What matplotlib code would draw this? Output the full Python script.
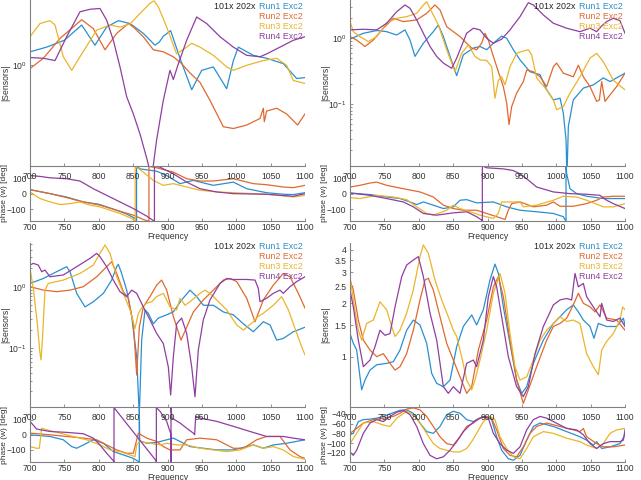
import matplotlib
matplotlib.use('Agg')
import matplotlib.pyplot as plt
from matplotlib.ticker import FixedLocator, FixedFormatter, NullLocator, LogLocator, NullFormatter

plt.rcParams['font.family'] = ['Liberation Sans', 'DejaVu Sans']
plt.rcParams['mathtext.fontset'] = 'custom'
plt.rcParams['mathtext.rm'] = 'Liberation Sans'
plt.rcParams['mathtext.it'] = 'Liberation Sans:italic'
plt.rcParams['mathtext.bf'] = 'Liberation Sans:bold'
plt.rcParams['mathtext.default'] = 'regular'

# ---------------- data: top-left panel ----------------
tl_mag_run1_f = [700, 724.2, 750, 775.2, 794.5, 811.5, 828.5, 845.5, 864.8, 881.8, 888.1, 894, 904.6, 918.2, 935.2, 949.7, 966.7, 986.1, 995.8, 1003, 1024.8, 1044.2, 1068.5, 1087.9, 1100]
tl_mag_run1 = [1.18, 1.25, 1.36, 1.64, 1.28, 1.60, 1.73, 1.67, 1.48, 1.28, 1.33, 1.43, 1.53, 1.09, 0.74, 0.94, 0.98, 0.75, 1.06, 1.25, 1.13, 1.09, 1.02, 0.85, 0.86]
tl_mag_run2_f = [700, 719.4, 743.6, 775.2, 792.1, 809.1, 826.1, 843, 850.3, 864.8, 879.4, 893.9, 908.5, 920.6, 932.7, 947.3, 961.8, 981.2, 995.8, 1015.2, 1034.5, 1039.4, 1040.8, 1044.2, 1058.8, 1073.3, 1089.3, 1100]
tl_mag_run2 = [0.96, 1.09, 1.39, 1.75, 1.57, 1.21, 1.48, 1.67, 1.60, 1.42, 1.21, 1.18, 1.11, 1.02, 0.91, 0.81, 0.65, 0.47, 0.46, 0.48, 0.52, 0.59, 0.50, 0.57, 0.59, 0.55, 0.48, 0.55]
tl_mag_run3_f = [700, 714.5, 729.1, 736.4, 748.5, 760.6, 775.2, 797, 816.4, 831, 845.5, 860, 874.5, 880.4, 886.7, 898.8, 913.3, 927.9, 935.2, 947.3, 966.7, 986.1, 995.8, 1015.2, 1039.4, 1058.8, 1073.3, 1083, 1100]
tl_mag_run3 = [1.42, 1.67, 1.73, 1.64, 1.11, 0.94, 1.15, 1.54, 1.64, 1.60, 1.66, 1.89, 2.14, 2.21, 2.05, 1.60, 1.15, 1.25, 1.31, 1.25, 1.13, 0.98, 0.94, 1.0, 1.06, 1.09, 1.0, 0.83, 0.80]
tl_mag_run4_f = [700, 719.4, 736.4, 753.3, 772.7, 787.3, 801.8, 811.5, 821.2, 830.9, 840.6, 850.3, 860, 869.7, 876.9, 884.2, 893.9, 903.6, 908.5, 915.8, 927.9, 942.4, 957, 976.4, 995.8, 1015.2, 1034.5, 1044.2, 1063.6, 1083, 1100]
tl_mag_run4 = [1.10, 1.09, 1.06, 1.42, 1.93, 1.99, 2.01, 1.74, 1.36, 0.98, 0.68, 0.55, 0.43, 0.32, 0.25, 0.40, 0.65, 0.94, 0.84, 1.02, 1.36, 1.81, 1.67, 1.42, 1.25, 1.13, 1.11, 1.15, 1.25, 1.36, 1.42]

tl_ph_run1_f = [700, 729.1, 753.3, 777.6, 800, 811.5, 826.1, 840.6, 853, 855, 855, 860, 884.2, 898.8, 918.2, 937.6, 966.7, 995.8, 1015.2, 1044.2, 1068.5, 1083, 1100]
tl_ph_run1 = [26, 0, -22, -54, -69, -86, -108, -133, -161, -180, 180, 161, 146, 118, 65, 86, 54, 75, 32, 6, -4, -6, 6]
tl_ph_run2_f = [700, 729.1, 753.3, 777.6, 801.8, 826.1, 850.3, 864.8, 873, 873, 874.5, 884.2, 908.5, 927.9, 947.3, 966.7, 995.8, 1024.8, 1044.2, 1068.5, 1083, 1100]
tl_ph_run2 = [26, 0, -26, -54, -75, -108, -140, -168, -180, 180, 176, 168, 140, 97, 82, 82, 97, 65, 58, 43, 39, 54]
tl_ph_run3_f = [700, 714.5, 729.1, 743.6, 758.2, 772.7, 787.3, 801.8, 816.4, 830.9, 847.9, 853, 853, 853.8, 864.8, 879.4, 893.9, 908.5, 927.9, 947.3, 971.5, 995.8, 1044.2, 1073.3, 1083, 1100]
tl_ph_run3 = [11, -32, -54, -71, -65, -54, -75, -86, -108, -129, -161, -180, 180, 176, 140, 86, 54, 65, 43, 22, 11, 6, -4, -17, -22, -11]
tl_ph_run4_f = [700, 714.5, 729.1, 753.3, 772.7, 792.1, 811.5, 830.9, 850.3, 869.7, 881, 881, 889.1, 908.5, 927.9, 947.3, 971.5, 995.8, 1044.2, 1083, 1100]
tl_ph_run4 = [118, 112, 103, 97, 82, 32, -11, -54, -97, -146, -180, 180, 172, 129, 75, 32, 11, 0, -4, -17, 0]

# ---------------- data: top-right panel ----------------
tr_mag_run1_f = [700, 719.4, 738.8, 753.3, 767.9, 780, 787.3, 794.5, 806.7, 821.2, 828.5, 835.8, 845.5, 855.2, 864.8, 879.4, 889.1, 898.8, 908.5, 920.6, 927.9, 937.6, 947.3, 961.8, 976.4, 986.1, 995.8, 1005.5, 1010.3, 1014.2, 1015.6, 1017.6, 1024.8, 1039.4, 1053.9, 1068.5, 1078.2, 1100]
tr_mag_run1 = [0.97, 1.19, 1.31, 1.26, 1.12, 1.34, 0.94, 0.53, 0.84, 1.26, 1.59, 1.06, 0.53, 0.27, 0.56, 0.71, 0.75, 0.67, 0.84, 1.08, 1.0, 0.67, 0.47, 0.31, 0.28, 0.165, 0.116, 0.123, 0.073, 0.029, 0.008, 0.046, 0.116, 0.175, 0.196, 0.25, 0.22, 0.295]
tr_mag_run2_f = [700, 709.7, 721.8, 733.9, 748.5, 763, 777.6, 797, 811.5, 823.6, 830.9, 840.6, 850.3, 860, 869.7, 877, 884.2, 891.5, 896.4, 901.2, 908.5, 915.8, 923, 927.9, 931.3, 935.2, 942.4, 952.1, 957, 966.7, 976.4, 986.1, 995.8, 1000.6, 1010.3, 1024.8, 1032.1, 1039.4, 1049.1, 1058.8, 1062.7, 1066.1, 1070.9, 1078.2, 1087.9, 1100]
tr_mag_run2 = [1.06, 0.94, 0.75, 0.94, 1.42, 2.01, 1.79, 1.90, 2.39, 3.20, 2.69, 1.50, 1.26, 1.06, 0.84, 0.71, 0.67, 0.84, 1.19, 0.94, 0.53, 0.31, 0.185, 0.104, 0.049, 0.092, 0.147, 0.22, 0.33, 0.31, 0.26, 0.185, 0.37, 0.42, 0.295, 0.26, 0.39, 0.26, 0.185, 0.11, 0.116, 0.22, 0.11, 0.138, 0.185, 0.295]
tr_mag_run3_f = [700, 704.8, 714.5, 726.7, 738.8, 753.3, 767.9, 782.4, 797, 806.7, 811.5, 818.8, 828.5, 840.6, 852.7, 862.3, 872.1, 881.8, 889.1, 898.8, 906.1, 910.9, 915.8, 920.6, 925.5, 932.7, 942.4, 949.7, 959.4, 964.2, 971.5, 986.1, 995.8, 1000.6, 1010.3, 1020, 1034.5, 1049.1, 1058.8, 1068.5, 1083, 1100]
tr_mag_run3 = [1.79, 1.26, 1.06, 0.89, 1.06, 1.69, 2.01, 2.13, 2.39, 3.20, 3.59, 2.53, 1.59, 0.67, 0.31, 0.59, 0.79, 0.53, 0.47, 0.46, 0.37, 0.123, 0.23, 0.26, 0.196, 0.37, 0.59, 0.63, 0.67, 0.56, 0.25, 0.165, 0.116, 0.082, 0.092, 0.147, 0.26, 0.50, 0.59, 0.44, 0.23, 0.165]
tr_mag_run4_f = [700, 719.4, 738.8, 753.3, 767.9, 780, 787.3, 797, 806.7, 816.4, 826.1, 835.8, 847.9, 855.2, 869.7, 879.4, 889.1, 898.8, 908.5, 920.6, 932.7, 947.3, 959.4, 966.7, 981.2, 995.8, 1015.2, 1034.5, 1049.1, 1058.8, 1066.1, 1073.3, 1083, 1092.7, 1100]
tr_mag_run4 = [1.34, 1.37, 1.34, 1.69, 2.53, 3.20, 2.85, 1.90, 1.19, 0.75, 0.53, 0.42, 0.35, 0.50, 1.19, 1.42, 1.34, 1.0, 0.84, 0.97, 1.34, 2.13, 3.47, 3.20, 2.26, 1.69, 1.42, 1.26, 1.42, 1.26, 1.54, 1.79, 2.01, 1.85, 1.19]

tr_ph_run1_f = [700, 729.1, 753.3, 772.7, 787.3, 797, 806.7, 821.2, 835.8, 850.3, 860, 869.7, 884.2, 908.5, 927.9, 947.3, 971.5, 995.8, 1010.3, 1014.2, 1014.2, 1015.2, 1020, 1029.7, 1044.2, 1068.5, 1100]
tr_ph_run1 = [4, -6, -22, -32, -54, -71, -54, -75, -97, -86, -43, -39, -60, -54, -86, -108, -118, -129, -150, -180, 180, 129, 32, 0, -17, -32, -32]
tr_ph_run2_f = [700, 714.5, 729.1, 738.8, 753.3, 777.6, 801.8, 821.2, 835.8, 850.3, 864.8, 884.2, 898.8, 913.3, 925.5, 930.3, 935.2, 947.3, 966.7, 986.1, 995.8, 1005.5, 1024.8, 1044.2, 1058.8, 1068.5, 1083, 1100]
tr_ph_run2 = [43, 54, 69, 75, 54, 32, 11, -22, -75, -97, -108, -108, -129, -150, -168, -108, -65, -54, -86, -75, -54, -82, -82, -65, -43, -22, -17, -17]
tr_ph_run3_f = [700, 714.5, 738.8, 763, 782.4, 797, 811.5, 821.2, 840.6, 850.3, 860, 874.5, 889.1, 908.5, 915.8, 920.6, 932.7, 947.3, 952.1, 971.5, 995.8, 1010.3, 1029.7, 1044.2, 1068.5, 1083, 1100]
tr_ph_run3 = [-26, -32, -11, -22, -39, -86, -129, -140, -108, -75, -97, -118, -140, -161, -129, -54, -54, -54, -86, -75, -43, -17, -22, -43, -86, -86, -65]
tr_ph_run4_f = [700, 729.1, 753.3, 777.6, 792.1, 806.7, 826.1, 850.3, 869.7, 884.2, 891.5, 892.5, 892.5, 898.8, 923, 937.6, 947.3, 957, 971.5, 995.8, 1020, 1044.2, 1063.6, 1073.3, 1083, 1100]
tr_ph_run4 = [4, -11, -32, -54, -86, -129, -140, -125, -118, -150, -172, -180, 180, 168, 161, 150, 129, 97, 43, 11, 0, -4, -11, -43, -65, -97]

# ---------------- data: bottom-left panel ----------------
bl_mag_run1_f = [700, 719.4, 738.8, 753.3, 758.2, 767.9, 780, 792.1, 806.7, 818.8, 826.1, 828.5, 833.3, 840.6, 847.9, 855.2, 859, 862.4, 867.3, 872.1, 879.4, 886.7, 898.8, 908.5, 920.6, 932.7, 942.4, 952.1, 966.7, 981.2, 995.8, 1010.3, 1024.8, 1039.4, 1049.1, 1058.8, 1068.5, 1083, 1100]
bl_mag_run1 = [1.13, 1.36, 1.75, 2.11, 1.75, 0.78, 0.47, 0.57, 0.78, 1.28, 2.11, 2.30, 1.64, 0.88, 0.33, 0.073, 0.008, 0.136, 0.42, 0.37, 0.25, 0.31, 0.35, 0.39, 0.61, 0.88, 0.69, 0.50, 0.50, 0.39, 0.35, 0.25, 0.186, 0.27, 0.24, 0.136, 0.145, 0.186, 0.22]
bl_mag_run2_f = [700, 719.4, 738.8, 758.2, 777.6, 797, 811.5, 818.8, 826.1, 835.8, 843, 850.3, 855.2, 859, 864.8, 874.5, 884.2, 891.5, 898.8, 908.5, 919.6, 927.9, 937.6, 952.1, 966.7, 981.2, 990.9, 1000.6, 1015.2, 1027.3, 1039.4, 1053.9, 1068.5, 1078.2, 1090.3, 1100]
bl_mag_run2 = [1.0, 0.88, 0.83, 0.88, 1.0, 1.45, 2.11, 2.54, 1.64, 0.83, 0.65, 0.25, 0.037, 0.22, 0.47, 0.69, 1.06, 1.28, 0.88, 0.33, 0.136, 0.22, 0.39, 0.61, 0.88, 1.28, 1.36, 1.21, 0.65, 0.27, 0.61, 1.06, 1.64, 1.45, 0.78, 0.45]
bl_mag_run3_f = [700, 704.8, 710.7, 714.5, 716, 718, 721.8, 726.7, 748.5, 772.7, 792.1, 801.8, 809.1, 816.4, 826.1, 835.8, 845.5, 852.7, 857.6, 862.4, 869.7, 877, 884.2, 893.9, 903.6, 913.3, 918.2, 925.5, 932.7, 947.3, 954.5, 961.8, 971.5, 986.1, 1000.6, 1010.3, 1024.8, 1032.1, 1039.4, 1053.9, 1066.1, 1075.8, 1085.5, 1095.2, 1100]
bl_mag_run3 = [1.98, 0.94, 0.25, 0.083, 0.065, 0.136, 0.88, 1.13, 1.28, 1.64, 2.24, 3.47, 4.74, 3.47, 1.45, 0.78, 0.42, 0.21, 0.37, 0.45, 0.54, 0.57, 0.69, 0.78, 0.47, 0.42, 0.65, 0.50, 0.57, 0.78, 0.88, 0.78, 0.61, 0.42, 0.24, 0.198, 0.27, 0.33, 0.37, 0.50, 0.69, 0.42, 0.21, 0.106, 0.078]
bl_mag_run4_f = [700, 704.8, 712.1, 717, 721.8, 729.1, 748.5, 767.9, 787.3, 797, 801.8, 811.5, 821.2, 830.9, 840.6, 847.9, 855.2, 864.8, 874.5, 884.2, 893.9, 901.2, 904.6, 908.5, 913.3, 920.6, 927.9, 935.2, 940, 944.8, 952.1, 961.8, 976.4, 986.1, 995.8, 1015.2, 1027.3, 1032.1, 1034.5, 1044.2, 1053.9, 1063.6, 1068.5, 1078.2, 1087.9, 1100]
bl_mag_run4 = [2.24, 2.39, 2.24, 1.75, 1.86, 1.45, 1.55, 2.11, 2.88, 3.47, 3.07, 2.11, 1.28, 0.83, 0.69, 0.88, 0.78, 0.47, 0.29, 0.175, 0.12, 0.050, 0.0175, 0.073, 0.25, 0.31, 0.175, 0.050, 0.0164, 0.094, 0.29, 0.61, 1.13, 1.36, 1.31, 1.31, 1.28, 0.94, 0.57, 0.65, 0.78, 0.88, 0.78, 1.0, 1.21, 1.45]

bl_ph_run1_f = [700, 729.1, 748.5, 760.6, 767.9, 777.6, 792.1, 806.7, 821.2, 835.8, 850.3, 859, 859, 859.5, 869.7, 884.2, 898.8, 908.5, 918.2, 932.7, 952.1, 971.5, 995.8, 1015.2, 1024.8, 1039.4, 1053.9, 1073.3, 1100]
bl_ph_run1 = [0, -11, -33, -78, -89, -67, -33, -56, -111, -133, -156, -180, 180, -40, -56, -51, -33, -22, -44, -78, -89, -100, -100, -78, -67, -89, -67, -56, -33]
bl_ph_run2_f = [700, 729.1, 753.3, 777.6, 797, 811.5, 826.1, 840.6, 850.3, 855.2, 857.6, 869.7, 884.2, 893.9, 903.6, 918.2, 927.9, 947.3, 971.5, 995.8, 1010.3, 1029.7, 1044.2, 1063.6, 1078.2, 1092.7, 1100]
bl_ph_run2 = [11, 0, -11, -22, -33, -67, -100, -122, -122, -33, 11, -22, -44, -78, -100, -100, -33, -22, -33, -89, -89, -33, -11, -11, -100, -144, -156]
bl_ph_run3_f = [700, 709.7, 713.6, 717, 724.2, 743.6, 763, 782.4, 801.8, 816.4, 830.9, 845.5, 852.7, 855.2, 860, 874.5, 889.1, 898.8, 913.3, 927.9, 947.3, 966.7, 986.1, 1005.5, 1024.8, 1039.4, 1053.9, 1068.5, 1083, 1100]
bl_ph_run3 = [-78, -89, -89, 44, 33, 11, -11, -33, -67, -100, -111, -133, -144, -67, -44, -56, -67, -56, -67, -67, -89, -100, -111, -100, -67, -89, -78, -100, -144, -162]
bl_ph_run4_f = [700, 709.7, 729.1, 753.3, 777.6, 792.1, 801.8, 811.5, 821.2, 822.2, 822.2, 883.3, 883.8, 883.8, 889.1, 898.8, 903.6, 904.6, 905.1, 905.1, 906.5, 918.2, 927.9, 937.6, 939.5, 941, 947.3, 971.5, 995.8, 1020, 1044.2, 1068.5, 1083, 1100]
bl_ph_run4 = [89, 38, 22, 16, 7, -22, -67, -122, -171, -180, 180, -171, -180, 180, 156, 89, 22, 10, -180, 180, 111, 78, 44, 11, 0, 122, 111, 89, 56, 22, -11, -11, -22, -33]

# ---------------- data: bottom-right panel ----------------
br_mag_run1_f = [700, 704.8, 709.7, 714.5, 717, 721.8, 729.1, 738.8, 753.3, 763, 772.7, 782.4, 792.1, 801.8, 811.5, 818.8, 826.1, 835.8, 845.5, 855.2, 864.8, 877, 884.2, 893.9, 903.6, 910.9, 915.8, 923, 932.7, 942.4, 949.7, 957, 966.7, 981.2, 995.8, 1005.5, 1015.2, 1024.8, 1032.1, 1039.4, 1049.1, 1054.9, 1061.2, 1073.3, 1087.9, 1097.6, 1100]
br_mag_run1 = [1.35, 1.19, 1.09, 0.77, 0.65, 0.738, 0.84, 0.90, 0.917, 0.937, 1.09, 1.41, 1.61, 1.51, 1.19, 0.805, 0.707, 0.677, 0.738, 1.14, 1.48, 1.72, 1.51, 1.84, 2.71, 3.33, 2.95, 1.91, 1.19, 0.738, 0.621, 0.677, 0.917, 1.24, 1.54, 1.68, 1.84, 1.96, 1.79, 1.61, 1.48, 1.27, 1.54, 1.48, 1.48, 1.65, 1.51]
br_mag_run2_f = [700, 704.8, 712.1, 719.4, 729.1, 738.8, 748.5, 758.2, 765.5, 772.7, 782.4, 792.1, 801.8, 809.1, 813.9, 821.2, 830.9, 840.6, 850.3, 860, 869.7, 877, 886.7, 898.8, 908.5, 915.8, 923, 932.7, 942.4, 952.1, 959.4, 971.5, 986.1, 995.8, 1005.5, 1015.2, 1024.8, 1032.1, 1039.4, 1049.1, 1056.4, 1063.6, 1073.3, 1087.9, 1100]
br_mag_run2 = [2.71, 2.38, 1.61, 1.24, 1.09, 1.0, 1.04, 0.917, 0.84, 0.878, 1.04, 1.41, 2.09, 2.71, 2.77, 2.38, 1.68, 1.19, 0.957, 0.77, 0.621, 0.677, 1.09, 1.61, 2.48, 2.83, 2.18, 1.24, 0.738, 0.545, 0.65, 0.878, 1.24, 1.48, 1.54, 1.65, 1.96, 2.28, 2.0, 1.91, 1.79, 1.96, 1.65, 1.61, 1.41]
br_mag_run3_f = [700, 704.8, 712.1, 717, 724.2, 733.9, 743.6, 753.3, 760.6, 765.5, 772.7, 782.4, 792.1, 801.8, 806.7, 813.9, 823.6, 833.3, 843, 850.3, 855.2, 862.4, 869.7, 877, 881.8, 889.1, 898.8, 908.5, 918.2, 925.5, 932.7, 940, 947.3, 957, 966.7, 976.4, 986.1, 995.8, 1005.5, 1015.2, 1024.8, 1034.5, 1044.2, 1053.9, 1061.2, 1066.1, 1073.3, 1083, 1092.7, 1096.6, 1100]
br_mag_run3 = [2.83, 2.09, 1.41, 1.24, 1.54, 1.61, 2.04, 1.84, 1.48, 1.30, 1.41, 1.76, 2.38, 3.67, 4.27, 3.83, 2.71, 2.09, 1.68, 1.41, 1.30, 1.0, 0.738, 0.65, 0.738, 0.957, 1.41, 2.28, 2.95, 2.28, 1.35, 0.878, 0.738, 0.77, 0.957, 1.24, 1.41, 1.54, 1.68, 1.58, 1.61, 1.54, 1.04, 0.878, 0.79, 1.09, 1.22, 1.35, 1.61, 1.91, 1.84]
br_mag_run4_f = [700, 704.8, 712.1, 719.4, 729.1, 736.4, 743.6, 750.9, 758.2, 765.5, 775.2, 782.4, 792.1, 799.4, 806.7, 816.4, 826.1, 835.8, 843, 850.3, 860, 869.7, 879.4, 884.2, 893.9, 901.2, 908.5, 913.3, 920.6, 930.3, 942.4, 952.1, 959.4, 969.1, 981.2, 995.8, 1005.5, 1015.2, 1022.4, 1027.3, 1032.1, 1039.4, 1044.2, 1053.9, 1063.6, 1066.1, 1073.3, 1083, 1092.7, 1100]
br_mag_run4 = [2.38, 1.91, 1.24, 0.878, 0.957, 1.14, 1.41, 1.32, 1.35, 1.91, 2.83, 3.29, 3.51, 3.67, 2.83, 1.76, 1.24, 0.677, 0.621, 0.677, 0.621, 0.917, 0.957, 0.878, 1.24, 2.18, 2.83, 2.48, 1.68, 1.0, 0.677, 0.595, 0.677, 1.04, 1.48, 1.96, 2.09, 2.13, 2.09, 2.95, 2.48, 2.59, 2.18, 1.91, 1.68, 2.0, 1.61, 1.58, 1.65, 1.48]

br_ph_run1_f = [700, 704.8, 712.1, 719.4, 729.1, 738.8, 748.5, 760.6, 772.7, 782.4, 792.1, 801.8, 811.5, 821.2, 830.9, 840.6, 850.3, 860, 869.7, 879.4, 889.1, 898.8, 906.1, 913.3, 920.6, 930.3, 937.6, 947.3, 957, 966.7, 976.4, 995.8, 1015.2, 1034.5, 1044.2, 1053.9, 1058.8, 1066.1, 1078.2, 1092.7, 1100]
br_ph_run1 = [-83, -80, -56, -52, -51, -49, -45.5, -39, -33, -32, -39, -59, -76.5, -80, -66, -42, -35, -39, -52, -56, -49, -45.5, -52, -87, -114.5, -132, -135, -125, -94, -66, -59, -66, -76.5, -87, -94, -104, -97, -111, -107.6, -101, -83]
br_ph_run2_f = [700, 709.7, 719.4, 733.9, 748.5, 763, 772.7, 782.4, 792.1, 801.8, 811.5, 821.2, 830.9, 840.6, 850.3, 860, 869.7, 879.4, 889.1, 898.8, 906.1, 913.3, 923, 932.7, 942.4, 952.1, 961.8, 971.5, 986.1, 1005.5, 1024.8, 1034.5, 1039.4, 1044.2, 1058.8, 1068.5, 1083, 1100]
br_ph_run2 = [-80, -70, -59, -52, -49, -45.5, -39, -30.5, -28, -32, -45.5, -66, -87, -101, -104, -87, -66, -59, -49, -45.5, -49, -73, -111, -125, -128, -107.6, -80, -66, -59, -66, -73, -76.5, -70, -87, -101, -107.6, -107.6, -104]
br_ph_run3_f = [700, 709.7, 719.4, 733.9, 748.5, 758.2, 767.9, 775.2, 782.4, 792.1, 801.8, 811.5, 821.2, 830.9, 840.6, 850.3, 860, 869.7, 877, 884.2, 893.9, 903.6, 910.9, 918.2, 927.9, 937.6, 947.3, 957, 966.7, 981.2, 995.8, 1015.2, 1034.5, 1044.2, 1058.8, 1068.5, 1078.2, 1087.9, 1100]
br_ph_run3 = [-101, -80, -59, -56, -63, -66, -49, -42, -35, -42, -59, -80, -101, -111, -114.5, -118, -118, -111, -97, -80, -56, -45.5, -52, -87, -111, -128, -132, -111, -87, -76.5, -80, -90, -97, -104, -111, -101, -80, -73, -70]
br_ph_run4_f = [700, 704.8, 709.7, 719.4, 729.1, 738.8, 748.5, 758.2, 767.9, 777.6, 787.3, 797, 806.7, 816.4, 826.1, 835.8, 845.5, 855.2, 864.8, 874.5, 884.2, 893.9, 901.2, 908.5, 918.2, 927.9, 937.6, 947.3, 957, 966.7, 976.4, 986.1, 995.8, 1015.2, 1029.7, 1039.4, 1049.1, 1058.8, 1068.5, 1078.2, 1092.7, 1097.6, 1100]
br_ph_run4 = [-118, -125, -114.5, -80, -59, -52, -56, -45.5, -37, -33, -42, -66, -101, -125, -132, -128, -114.5, -97, -76.5, -63, -52, -45.5, -49, -80, -101, -114.5, -121, -107.6, -73, -52, -45.5, -49, -56, -70, -73, -83, -101, -111, -101, -97, -97, -94, -73]

# ---------------- labels / ticks ----------------
run_labels = ['Run1 Exc2', 'Run2 Exc2', 'Run3 Exc2', 'Run4 Exc2']
legend_prefix = '101x 202x'
freq_ticks = [700, 750, 800, 850, 900, 950, 1000, 1050, 1100]
mag_label = '|Sensors|'
phase_label = 'phase (w) [deg]'
freq_label = 'Frequency'

colors = ['#2a8fd0', '#e0692e', '#ebb52a', '#8f3fa0']
axis_gray = '#808080'
text_gray = '#333333'

W, H = 641, 480
fig = plt.figure(figsize=(W / 100, H / 100), dpi=100)


def rect(x0, x1, y0, y1):
    return [x0 / W, 1 - y1 / H, (x1 - x0) / W, (y1 - y0) / H]


panels = [
    dict(cols=(30, 305), mag_y=(0, 165.5), ph_y=(165.5, 221),
         mag=[(tl_mag_run1_f, tl_mag_run1), (tl_mag_run2_f, tl_mag_run2), (tl_mag_run3_f, tl_mag_run3), (tl_mag_run4_f, tl_mag_run4)],
         ph=[(tl_ph_run1_f, tl_ph_run1), (tl_ph_run2_f, tl_ph_run2), (tl_ph_run3_f, tl_ph_run3), (tl_ph_run4_f, tl_ph_run4)],
         mag_lim=(0.292, 2.23), mag_ticks=[1], mag_tl=['$10^{0}$'], minor=False,
         ph_lim=(-178, 183), ph_ticks=[-100, 0, 100], leg_off=6.5),
    dict(cols=(350, 625), mag_y=(0, 165.5), ph_y=(165.5, 221),
         mag=[(tr_mag_run1_f, tr_mag_run1), (tr_mag_run2_f, tr_mag_run2), (tr_mag_run3_f, tr_mag_run3), (tr_mag_run4_f, tr_mag_run4)],
         ph=[(tr_ph_run1_f, tr_ph_run1), (tr_ph_run2_f, tr_ph_run2), (tr_ph_run3_f, tr_ph_run3), (tr_ph_run4_f, tr_ph_run4)],
         mag_lim=(0.0117, 3.81), mag_ticks=[0.1, 1], mag_tl=['$10^{-1}$', '$10^{0}$'], minor=True,
         ph_lim=(-178, 183), ph_ticks=[-100, 0, 100], leg_off=6.5),
    dict(cols=(30, 305), mag_y=(243, 407), ph_y=(407, 462),
         mag=[(bl_mag_run1_f, bl_mag_run1), (bl_mag_run2_f, bl_mag_run2), (bl_mag_run3_f, bl_mag_run3), (bl_mag_run4_f, bl_mag_run4)],
         ph=[(bl_ph_run1_f, bl_ph_run1), (bl_ph_run2_f, bl_ph_run2), (bl_ph_run3_f, bl_ph_run3), (bl_ph_run4_f, bl_ph_run4)],
         mag_lim=(0.0112, 5.11), mag_ticks=[0.1, 1], mag_tl=['$10^{-1}$', '$10^{0}$'], minor=True,
         ph_lim=(-180, 184), ph_ticks=[-100, 0, 100], leg_off=3.5),
    dict(cols=(350, 625), mag_y=(243, 407), ph_y=(407, 462),
         mag=[(br_mag_run1_f, br_mag_run1), (br_mag_run2_f, br_mag_run2), (br_mag_run3_f, br_mag_run3), (br_mag_run4_f, br_mag_run4)],
         ph=[(br_ph_run1_f, br_ph_run1), (br_ph_run2_f, br_ph_run2), (br_ph_run3_f, br_ph_run3), (br_ph_run4_f, br_ph_run4)],
         mag_lim=(0.52, 4.38), mag_ticks=[1, 1.5, 2, 2.5, 3, 3.5, 4], mag_tl=['1', '1.5', '2', '2.5', '3', '3.5', '4'], minor=False,
         ph_lim=(-138.6, -26.2), ph_ticks=[-120, -100, -80, -60, -40], leg_off=3.5),
]

FS = 6.2


def style(ax):
    for s in ('top', 'right'):
        ax.spines[s].set_visible(False)
    for s in ('left', 'bottom'):
        ax.spines[s].set_color(axis_gray)
        ax.spines[s].set_linewidth(0.8)
    ax.tick_params(which='both', direction='in', colors=axis_gray, labelcolor=text_gray,
                   labelsize=FS, width=0.6)
    ax.tick_params(which='major', length=2.5)
    ax.tick_params(which='minor', length=1.5)


for p in panels:
    x0, x1 = p['cols']
    width_px = x1 - x0
    # phase axes (drawn first, transparent)
    axp = fig.add_axes(rect(x0, x1, *p['ph_y']))
    axp.set_facecolor('none')
    axp.set_zorder(1)
    for (f, v), c in zip(p['ph'], colors):
        axp.plot(f, v, color=c, lw=0.9)
    axp.set_xlim(700, 1100)
    axp.set_ylim(*p['ph_lim'])
    axp.set_xticks(freq_ticks)
    axp.set_yticks(p['ph_ticks'])
    style(axp)
    axp.tick_params(axis='x', pad=1.5)
    axp.tick_params(axis='y', pad=2.5)
    axp.set_xlabel(freq_label, fontsize=FS, color=text_gray, labelpad=0)
    axp.set_ylabel(phase_label, fontsize=FS - 0.2, color=text_gray)
    axp.yaxis.set_label_coords(-22 / width_px, 0.5)

    # magnitude axes
    axm = fig.add_axes(rect(x0, x1, *p['mag_y']))
    axm.set_zorder(2)
    axm.set_facecolor('none')
    for (f, v), c in zip(p['mag'], colors):
        axm.plot(f, v, color=c, lw=0.9)
    axm.set_yscale('log')
    axm.set_xlim(700, 1100)
    axm.set_ylim(*p['mag_lim'])
    axm.set_xticks(freq_ticks)
    axm.yaxis.set_major_locator(FixedLocator(p['mag_ticks']))
    axm.yaxis.set_major_formatter(FixedFormatter(p['mag_tl']))
    if p['minor']:
        axm.yaxis.set_minor_locator(LogLocator(base=10, subs=[2, 3, 4, 5, 6, 7, 8, 9], numticks=20))
    else:
        axm.yaxis.set_minor_locator(NullLocator())
    axm.yaxis.set_minor_formatter(NullFormatter())
    axm.xaxis.set_minor_locator(NullLocator())
    style(axm)
    axm.tick_params(axis='x', pad=4.5)
    axm.tick_params(axis='y', pad=2.5)
    axm.set_ylabel(mag_label, fontsize=FS, color=text_gray)
    axm.yaxis.set_label_coords(-19.5 / width_px, 0.5)

    # legend-like coloured text (no box, no line samples)
    h_px = p['mag_y'][1] - p['mag_y'][0]
    xr = 1 - 2.5 / width_px
    first = None
    for i, (lab, c) in enumerate(zip(run_labels, colors)):
        yy = 1 - (p['leg_off'] + 10 * i) / h_px
        t = axm.text(xr, yy, lab, color=c, fontsize=FS + 0.2, ha='right', va='center',
                     transform=axm.transAxes, zorder=5)
        if i == 0:
            first = t
    axm.annotate(legend_prefix, xy=(0, 0.5), xycoords=first, xytext=(-2, 0),
                 textcoords='offset points', ha='right', va='center',
                 fontsize=FS + 0.2, color='#222222', zorder=5)

fig.savefig('out.png', dpi=100)
